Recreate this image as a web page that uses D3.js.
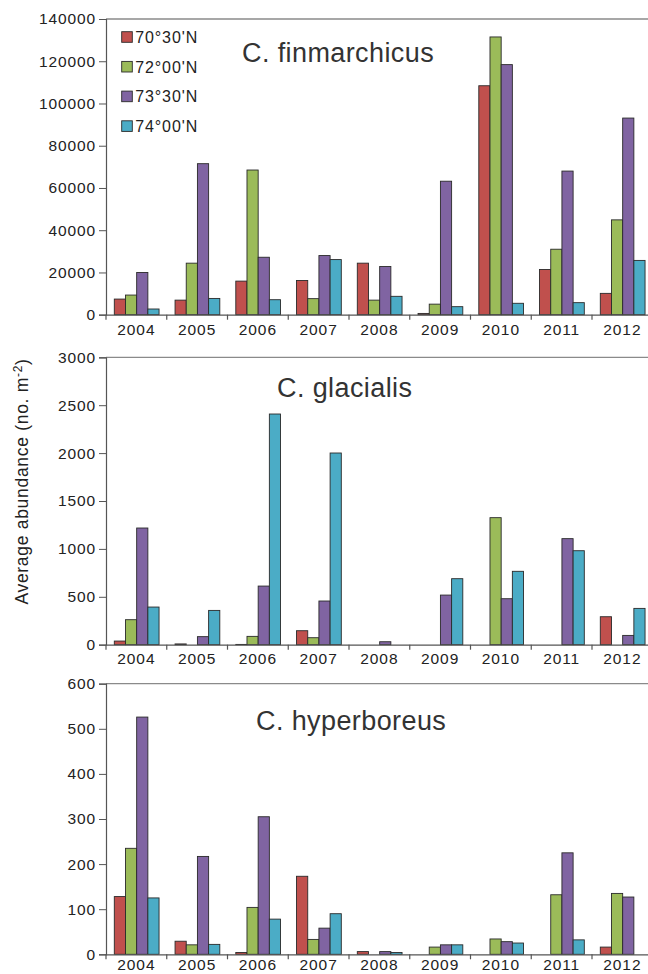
<!DOCTYPE html>
<html>
<head>
<meta charset="utf-8">
<script src="https://cdn.jsdelivr.net/npm/d3@7"></script>
<style>
  html, body { margin: 0; padding: 0; background: #fff; }
  svg { display: block; }
  text { font-family: "Liberation Sans", Arial, sans-serif; }
</style>
</head>
<body>
<div id="chart"></div>
<script>
// Calanus abundance by year and station latitude
const years = ["2004", "2005", "2006", "2007", "2008", "2009", "2010", "2011", "2012"];
const stations = ["70°30'N", "72°00'N", "73°30'N", "74°00'N"];
const stationColors = ["#c0504d", "#9bbb59", "#8064a2", "#4bacc6"];

// C. finmarchicus, one array per station
const finmarchicus70 = [7400, 6900, 15900, 16200, 24400, 600, 108400, 21400, 10100];
const finmarchicus72 = [9300, 24400, 68500, 7600, 6900, 5000, 131500, 31000, 44900];
const finmarchicus73 = [20000, 71500, 27200, 28000, 22800, 63200, 118400, 68000, 93100];
const finmarchicus74 = [2700, 7700, 7100, 26100, 8700, 3800, 5400, 5700, 25700];

// C. glacialis
const glacialis70 = [38, 8, 3, 146, 0, 0, 0, 0, 292];
const glacialis72 = [261, 0, 87, 73, 0, 0, 1326, 0, 0];
const glacialis73 = [1218, 84, 612, 456, 31, 518, 480, 1107, 97];
const glacialis74 = [393, 358, 2408, 2001, 0, 689, 766, 981, 379];

// C. hyperboreus
const hyperboreus70 = [128, 29, 4, 173, 6, 0, 0, 0, 16];
const hyperboreus72 = [235, 21, 104, 33, 0, 16, 34, 132, 135];
const hyperboreus73 = [526, 217, 305, 58, 6, 21, 28, 225, 127];
const hyperboreus74 = [125, 22, 78, 90, 4, 21, 25, 32, 0];

const finmarchicusTicks = [0, 20000, 40000, 60000, 80000, 100000, 120000, 140000];
const glacialisTicks = [0, 500, 1000, 1500, 2000, 2500, 3000];
const hyperboreusTicks = [0, 100, 200, 300, 400, 500, 600];

const panels = [
  { title: "C. finmarchicus", series: [finmarchicus70, finmarchicus72, finmarchicus73, finmarchicus74],
    ticks: finmarchicusTicks, top: 19, bottom: 314.7, titleX: 242, titleY: 62, labelPad: 9 },
  { title: "C. glacialis", series: [glacialis70, glacialis72, glacialis73, glacialis74],
    ticks: glacialisTicks, top: 357.3, bottom: 644.7, titleX: 277, titleY: 397, labelPad: 8 },
  { title: "C. hyperboreus", series: [hyperboreus70, hyperboreus72, hyperboreus73, hyperboreus74],
    ticks: hyperboreusTicks, top: 683.7, bottom: 954.3, titleX: 256, titleY: 730, labelPad: 5 }
];

const W = 648, H = 974;
const axisLeft = 106, axisRight = 652.75;

const svg = d3.select("#chart").append("svg")
  .attr("width", W).attr("height", H);

const x = d3.scaleBand().domain(years).range([axisLeft, axisRight]).paddingInner(0).paddingOuter(0);
const groupPad = 8.3;
const xs = d3.scaleBand().domain(d3.range(stations.length))
  .range([groupPad, x.bandwidth() - groupPad + 0.6]);

panels.forEach(p => {
  const g = svg.append("g");
  const yMax = p.ticks[p.ticks.length - 1];
  const y = d3.scaleLinear().domain([0, yMax]).range([p.bottom, p.top]);

  // top frame line
  g.append("line")
    .attr("x1", axisLeft).attr("x2", W)
    .attr("y1", p.top).attr("y2", p.top)
    .attr("stroke", "#8a8a8a").attr("stroke-width", 1.3);

  // y axis
  const yAxis = d3.axisLeft(y).tickValues(p.ticks).tickSize(7).tickPadding(3)
    .tickFormat(d3.format("d"));
  const ya = g.append("g").attr("transform", `translate(${axisLeft},0)`).call(yAxis);
  ya.select(".domain").attr("stroke", "#555").attr("stroke-width", 1.2);
  ya.selectAll(".tick line").attr("stroke", "#555");
  ya.selectAll(".tick text")
    .attr("fill", "#222").style("font-size", "15.5px").style("letter-spacing", "0.9px")
    .style("font-family", "'Liberation Sans', Arial, sans-serif");

  // bars
  p.series.forEach((vals, si) => {
    g.append("g").selectAll("rect")
      .data(vals.map((v, i) => ({ year: years[i], v })).filter(d => d.v > 0))
      .join("rect")
      .attr("x", d => x(d.year) + xs(si))
      .attr("width", xs.bandwidth())
      .attr("y", d => y(d.v))
      .attr("height", d => y(0) - y(d.v))
      .attr("fill", stationColors[si])
      .attr("stroke", "#2a2a2a")
      .attr("stroke-width", 0.9);
  });

  // x axis
  const xAxis = d3.axisBottom(x).tickSize(0).tickPadding(p.labelPad);
  const xa = g.append("g").attr("transform", `translate(0,${p.bottom})`).call(xAxis);
  xa.select(".domain").attr("stroke", "#555").attr("stroke-width", 1.2);
  xa.selectAll(".tick text")
    .attr("fill", "#222").style("font-size", "15.5px").style("letter-spacing", "0.9px")
    .style("font-family", "'Liberation Sans', Arial, sans-serif");

  // category separator ticks below the axis
  g.append("g").selectAll("line")
    .data(years)
    .join("line")
    .attr("x1", d => x(d)).attr("x2", d => x(d))
    .attr("y1", p.bottom).attr("y2", p.bottom + 5)
    .attr("stroke", "#555").attr("stroke-width", 1.2);

  // species title
  g.append("text")
    .attr("x", p.titleX).attr("y", p.titleY)
    .attr("fill", "#333")
    .style("font-size", "27px").style("letter-spacing", "0.4px")
    .text(p.title);
});

// legend in the top panel
const legend = svg.append("g").attr("transform", "translate(121.7,37)");
stations.forEach((s, i) => {
  const row = legend.append("g").attr("transform", `translate(0,${i * 29.7})`);
  row.append("rect")
    .attr("x", 0).attr("y", -5.3).attr("width", 10.6).attr("height", 10.6)
    .attr("fill", stationColors[i]).attr("stroke", "#2a2a2a").attr("stroke-width", 0.9);
  row.append("text")
    .attr("x", 13.5).attr("y", 5.8)
    .attr("fill", "#222")
    .style("font-size", "16px").style("letter-spacing", "0.9px")
    .text(s);
});

// shared y-axis label
const yl = svg.append("text")
  .attr("transform", "translate(27.5,481.5) rotate(-90)")
  .attr("text-anchor", "middle")
  .attr("fill", "#222")
  .style("font-size", "17.5px").style("letter-spacing", "0.7px");
yl.append("tspan").text("Average abundance (no. m");
yl.append("tspan").attr("dy", -6).style("font-size", "12px").text("-2");
yl.append("tspan").attr("dy", 6).text(")");
</script>
</body>
</html>
